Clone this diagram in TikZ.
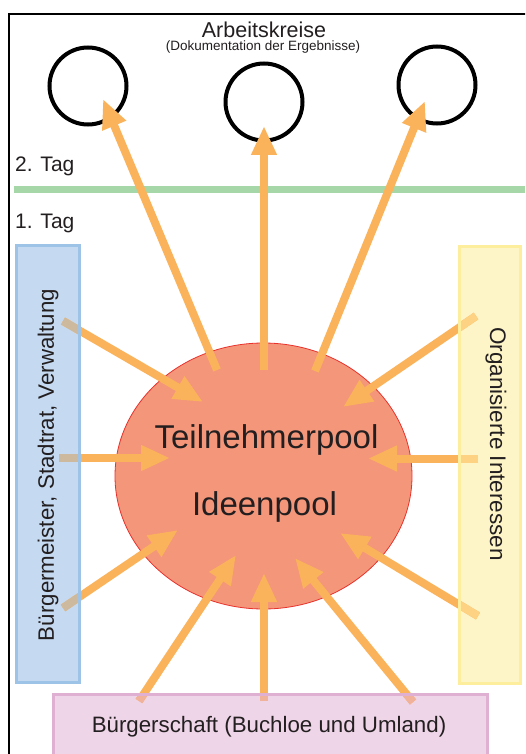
\documentclass[tikz,border=0pt]{standalone}
\usepackage{fontspec}
\setmainfont{Liberation Sans}
\usetikzlibrary{arrows.meta,shapes.geometric}

\definecolor{inkgray}{HTML}{231F20}
\definecolor{flow}{HTML}{FBB35B}
\definecolor{poolfill}{HTML}{F4967A}
\definecolor{poolline}{HTML}{E8322C}
\definecolor{dayline}{HTML}{A6D7A8}
\definecolor{adminfill}{HTML}{C5D9F0}
\definecolor{adminline}{HTML}{9DC3E6}
\definecolor{admintail}{HTML}{CDB99E}
\definecolor{groupfill}{HTML}{FDF5C7}
\definecolor{groupline}{HTML}{FCEE9D}
\definecolor{grouptail}{HTML}{FDD282}
\definecolor{citfill}{HTML}{EED5E8}
\definecolor{citline}{HTML}{E0B0D2}
\definecolor{cittail}{HTML}{F0B29A}

\tikzset{
  flowarrow/.style={draw=flow, line width=8pt, line cap=butt,
    -{Triangle[length=29pt,width=24pt]}},
  tailpart/.style={line width=8pt, line cap=butt},
  workgroup/.style={circle, draw=black, line width=4pt, minimum size=77pt, inner sep=0pt},
  panel/.style={rectangle, inner sep=0pt, draw=none},
  lbl/.style={text=inkgray, inner sep=0pt},
}

\newcommand{\fsz}[1]{\fontsize{#1}{#1}\selectfont}

\begin{document}
\begin{tikzpicture}[x=1pt,y=-1pt]
\clip (0,0) rectangle (525,754);
\fill[white] (0,0) rectangle (525,754);

% outer frame (only its top and left edges fall inside the page)
\draw[line width=2.5pt, black] (9,800) |- (600,14);

% separator between the two days
\draw[dayline, line width=7pt] (14,189.5) -- (530,189.5);

% working groups
\node[workgroup] (wg1) at (88,86) {};
\node[workgroup] (wg2) at (264,102) {};
\node[workgroup] (wg3) at (437,85) {};

% central pool
\node[ellipse, fill=poolfill, draw=poolline, line width=0.8pt,
      minimum width=297pt, minimum height=266pt, inner sep=0pt] (pool) at (263.5,476) {};

% side and bottom panels
\node[panel, fill=adminfill, minimum width=63pt, minimum height=436.5pt] (admin) at (48,463.75) {};
\node[panel, fill=groupfill, minimum width=61pt, minimum height=437pt] (groups) at (490,465) {};
\node[panel, fill=citfill, minimum width=434pt, minimum height=95.5pt] (citizens) at (270.5,742.25) {};

% arrow end points
\coordinate (u1s) at (217,370); \coordinate (u1e) at (103,99);
\coordinate (u2s) at (264,370); \coordinate (u2e) at (264,126);
\coordinate (u3s) at (315,371); \coordinate (u3e) at (425,101);
\coordinate (l1s) at (63,321);  \coordinate (l1e) at (203,402);
\coordinate (l2s) at (59,458);  \coordinate (l2e) at (170,458);
\coordinate (l3s) at (63,608);  \coordinate (l3e) at (178,530);
\coordinate (r1s) at (476,316); \coordinate (r1e) at (343,407);
\coordinate (r2s) at (478,458.5); \coordinate (r2e) at (368,458.5);
\coordinate (r3s) at (478,616); \coordinate (r3e) at (340,533);
\coordinate (b1s) at (139,701); \coordinate (b1e) at (236,555);
\coordinate (b2s) at (264,701); \coordinate (b2e) at (264,573);
\coordinate (b3s) at (413,702); \coordinate (b3e) at (295,558);

% arrows
\foreach \a in {u1,u2,u3,l1,l2,l3,r1,r2,r3,b1,b2,b3}
  \draw[flowarrow] (\a s) -- (\a e);

% arrow tails take on a muted tone where they lie on a panel
\begin{scope}
  \clip (admin.south west) rectangle (admin.north east);
  \foreach \a in {l1,l2,l3} \draw[tailpart, admintail] (\a s) -- (\a e);
\end{scope}
\begin{scope}
  \clip (groups.south west) rectangle (groups.north east);
  \foreach \a in {r1,r2,r3} \draw[tailpart, grouptail] (\a s) -- (\a e);
\end{scope}
\begin{scope}
  \clip (citizens.south west) rectangle (citizens.north east);
  \foreach \a in {b1,b2,b3} \draw[tailpart, cittail] (\a s) -- (\a e);
\end{scope}

% panel borders
\draw[adminline, line width=3pt] (admin.south west) rectangle (admin.north east);
\draw[groupline, line width=3pt] (groups.south west) rectangle (groups.north east);
\draw[citline, line width=3pt] (citizens.south west) rectangle (citizens.north east);

% labels
\node[lbl, anchor=base] (title) at (264,37.3) {\fsz{21.5}Arbeitskreise};
\node[lbl, anchor=base] (subtitle) at (263,50.8) {\fsz{13.5}(Dokumentation der Ergebnisse)};
\node[lbl, anchor=base west] (day2) at (15,171.7) {\fsz{21}2. Tag};
\node[lbl, anchor=base west] (day1) at (15,228.7) {\fsz{21}1. Tag};
\node[lbl, anchor=base] (poolA) at (266.5,448) {\fsz{33}Teilnehmerpool};
\node[lbl, anchor=base] (poolB) at (264.5,515) {\fsz{33}Ideenpool};
\node[lbl, rotate=90] (adminlbl) at (48,465) {\fsz{22.3}Bürgermeister, Stadtrat, Verwaltung};
\node[lbl, rotate=-90] (groupslbl) at (496,444) {\fsz{22.5}Organisierte Interessen};
\node[lbl, anchor=base] (citlbl) at (269,732) {\fsz{22.3}Bürgerschaft (Buchloe und Umland)};
\end{tikzpicture}
\end{document}
